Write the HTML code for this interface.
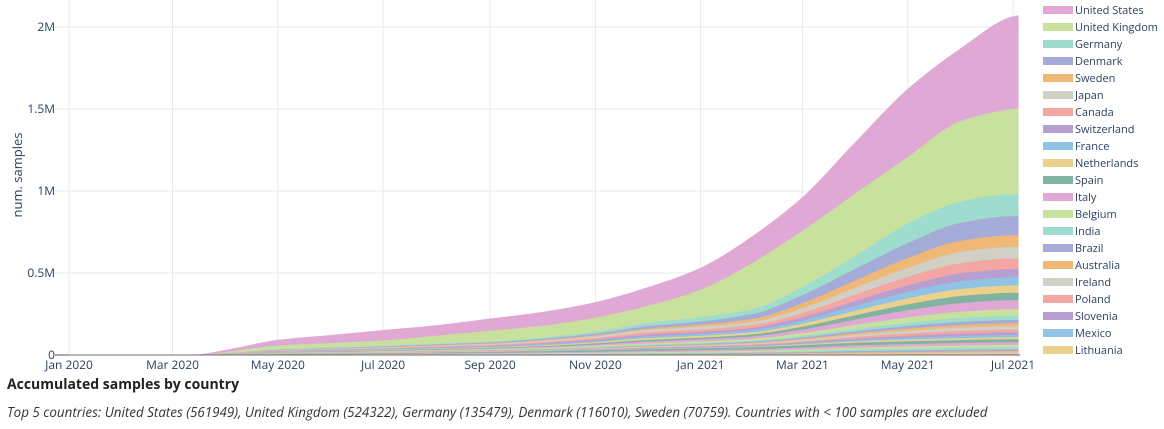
<!DOCTYPE html>
<html><head><meta charset="utf-8">
<style>
body{margin:0;background:#fff;font-family:"Liberation Sans",sans-serif;}
#wrap{position:relative;width:1164px;height:429px;overflow:hidden;}
svg text{font-family:"Open Sans","Liberation Sans",sans-serif;}
</style></head>
<body>
<div id="wrap">
<svg id="chart" width="1164" height="429"></svg>
</div>
<script>
const dates = ["2020-01-01","2020-02-01","2020-03-01","2020-03-15","2020-04-01","2020-05-01","2020-06-01","2020-07-01","2020-08-01","2020-09-01","2020-10-01","2020-11-01","2020-12-01","2021-01-01","2021-02-01","2021-03-01","2021-04-01","2021-05-01","2021-06-01","2021-07-01","2021-07-04"];
const countries = ["United States","United Kingdom","Germany","Denmark","Sweden","Japan","Canada","Switzerland","France","Netherlands","Spain","Italy","Belgium","India","Brazil","Australia","Ireland","Poland","Slovenia","Mexico","Lithuania","Other 1","Other 2","Other 3","Other 4","Other 5","Other 6","Other 7","Other 8"];
// values in thousands of samples (cumulative per country)
const usVals = [0,0,0,1,10,30,45,60,60,70,80,90,110,130,160,200,310,410,440,560,562];
const ukVals = [0,0,0,0,7,23,27,31,48,66,72,86,102,168,286,343,381,406,491,520,524];
const deVals = [0,0,0,0,1,3,4,5,5,5,8,12,20,25,30,50,80,120,130,135,135];
const dkVals = [0,0,0,0,1,2,3,4,5,6,7,10,15,20,30,50,70,90,110,116,116];
const seVals = [0,0,0,0,0,1,1,2,2,3,4,5,8,12,18,30,45,60,68,71,71];
const jpVals = [0,0,0,0,1,3,4,4,5,6,8,11,15,17,19,28,42,55,68,70,70];
const caVals = [0,0,0,0,1,3,3,4,5,6,8,10,14,15,18,26,39,52,62,65,65];
const chVals = [0,0,0,0,1,2,3,3,4,4,6,8,11,12,14,20,30,40,48,50,50];
const frVals = [0,0,0,0,1,2,3,3,4,4,6,8,11,12,14,20,30,40,48,50,50];
const nlVals = [0,0,0,0,1,2,2,3,3,4,5,7,10,11,12,18,27,36,43,45,45];
const esVals = [0,0,0,0,1,2,3,3,4,4,5,7,9,10,12,18,27,36,43,45,45];
const itVals = [0,0,0,0,1,2,3,4,4,5,6,9,12,13,15,22,33,44,53,55,55];
const beVals = [0,0,0,0,1,2,2,3,3,4,5,6,8,9,11,16,24,32,38,40,40];
const inVals = [0,0,0,0,0,1,1,2,2,2,3,4,5,6,7,10,15,20,24,25,25];
const brVals = [0,0,0,0,0,1,1,1,2,2,2,3,4,5,6,8,12,16,19,20,20];
const auVals = [0,0,0,0,1,2,2,2,3,3,3,3,4,4,5,7,10,14,17,18,18];
const ieVals = [0,0,0,0,0,1,1,1,2,2,2,3,4,5,6,8,12,16,19,20,20];
const plVals = [0,0,0,0,0,0,0,1,1,1,1,2,3,4,5,7,11,14,17,18,18];
const siVals = [0,0,0,0,0,0,0,0,0,1,1,2,3,4,5,6,9,12,14,15,15];
const mxVals = [0,0,0,0,0,0,1,1,1,1,2,2,3,3,4,6,8,11,13,14,14];
const ltVals = [0,0,0,0,0,0,0,0,0,0,1,1,2,2,3,5,8,10,12,13,13];
const o1Vals = [0,0,0,0,1,3,4,4,5,6,7,9,10,11,12,14,16,17,17,18,18];
const o2Vals = [0,0,0,0,1,2,3,3,4,5,6,7,8,9,10,12,14,15,16,16,16];
const o3Vals = [0,0,0,0,0,1,1,2,2,3,3,4,5,6,7,9,11,13,14,14,14];
const o4Vals = [0,0,0,0,0,1,1,1,2,2,3,3,4,5,6,8,10,11,12,12,12];
const o5Vals = [0,0,0,0,0,1,1,1,1,2,2,3,3,4,5,6,8,9,10,11,11];
const o6Vals = [0,0,0,0,0,0,1,1,1,1,2,2,3,3,4,5,7,8,9,10,10];
const o7Vals = [0,0,0,0,0,0,0,1,1,1,1,2,2,3,3,4,6,7,8,9,9];
const o8Vals = [0,0,0,0,0,0,0,0,1,1,1,1,2,2,3,4,5,6,7,8,8];
const yTicks = [0,500,1000,1500,2000];
const yTickLabels = ["0","0.5M","1M","1.5M","2M"];
const xTicks = ["2020-01-01","2020-03-01","2020-05-01","2020-07-01","2020-09-01","2020-11-01","2021-01-01","2021-03-01","2021-05-01","2021-07-01"];
const xTickLabels = ["Jan 2020","Mar 2020","May 2020","Jul 2020","Sep 2020","Nov 2020","Jan 2021","Mar 2021","May 2021","Jul 2021"];
const legendCount = 21;

const series = [usVals,ukVals,deVals,dkVals,seVals,jpVals,caVals,chVals,frVals,nlVals,esVals,itVals,beVals,inVals,brVals,auVals,ieVals,plVals,siVals,mxVals,ltVals,o1Vals,o2Vals,o3Vals,o4Vals,o5Vals,o6Vals,o7Vals,o8Vals];
const palette = ["#e0a8d4","#c8e29e","#9edccd","#a6acd8","#f0b877","#d0d0c6","#f4a6a3","#b79fd1","#90c3e4","#ecd18d","#80b3a1"];

const NS="http://www.w3.org/2000/svg";
const svg=document.getElementById('chart');
const X0=new Date("2020-01-01").getTime(), X1=new Date("2021-07-01").getTime();
function xs(d){return 69+(new Date(d).getTime()-X0)/(X1-X0)*944;}
function ys(v){return 355-v*0.164;}
function mk(tag,attrs){const e=document.createElementNS(NS,tag);for(const k in attrs)e.setAttribute(k,attrs[k]);svg.appendChild(e);return e;}

function monoPath(px,py,first){
  const n=px.length, m=new Array(n), d=[];
  for(let i=0;i<n-1;i++)d.push((py[i+1]-py[i])/(px[i+1]-px[i]));
  m[0]=d[0]; m[n-1]=d[n-2];
  for(let i=1;i<n-1;i++){
    if(d[i-1]*d[i]<=0)m[i]=0;
    else{const w1=2*(px[i+1]-px[i])+(px[i]-px[i-1]), w2=(px[i+1]-px[i])+2*(px[i]-px[i-1]);
      m[i]=(w1+w2)/(w1/d[i-1]+w2/d[i]);}
  }
  let s=(first?'M':'L')+px[0].toFixed(1)+','+py[0].toFixed(1);
  for(let i=0;i<n-1;i++){
    const h=(px[i+1]-px[i])/3;
    s+='C'+(px[i]+h).toFixed(1)+','+(py[i]+m[i]*h).toFixed(1)+' '+(px[i+1]-h).toFixed(1)+','+(py[i+1]-m[i+1]*h).toFixed(1)+' '+px[i+1].toFixed(1)+','+py[i+1].toFixed(1);
  }
  return s;
}

yTicks.forEach((t,i)=>{
  const g=mk('line',{x1:55,x2:1020,y1:ys(t),y2:ys(t),stroke:i==0?'#444':'#e6e9f0','stroke-width':1});
  
  
  const l=mk('text',{x:55,y:ys(t)+4,'text-anchor':'end','font-size':12,fill:'#2a3f5f'});
  l.textContent=yTickLabels[i];
  
  
});
xTicks.forEach((t,i)=>{
  const g=mk('line',{x1:xs(t),x2:xs(t),y1:0,y2:355,stroke:'#e6e9f0','stroke-width':1});
  
  
  const l=mk('text',{x:xs(t),y:369,'text-anchor':'middle','font-size':12,fill:'#2a3f5f'});
  l.textContent=xTickLabels[i];
  
  
});

const n=dates.length;
const pxs=dates.map(xs);
let base=new Array(n).fill(0);
const layers=[];
for(let s=series.length-1;s>=0;s--){
  const top=base.map((b,i)=>b+series[s][i]);
  layers.push({s,top,bot:base});
  base=top;
}
layers.forEach(L=>{
  let d=monoPath(pxs,L.top.map(ys),true);
  d+=monoPath(pxs.slice().reverse(),L.bot.map(ys).reverse(),false);
  d+='Z';
  const c=palette[L.s%palette.length];
  const p=mk('path',{d,fill:c,stroke:c,'stroke-width':0.8,'stroke-opacity':0.9});
  
  
});
mk('line',{x1:55,x2:1020,y1:355,y2:355,stroke:'#555','stroke-width':0.8});

for(let i=0;i<legendCount;i++){
  const y=10+i*17;
  const r=mk('rect',{x:1043,y:y-4,width:30,height:8,fill:palette[i%palette.length]});
  
  
  const t=mk('text',{x:1075,y:y+4,'font-size':11,fill:'#2a3f5f'});
  t.textContent=countries[i];
  
  
}
const at=mk('text',{x:0,y:0,'font-size':13,fill:'#2a3f5f','text-anchor':'middle',transform:'translate(22,175) rotate(-90)'});
at.textContent='num. samples';


const tt=mk('text',{x:7,y:389,'font-size':14,'font-weight':'bold',fill:'#222'});
tt.textContent='Accumulated samples by country';


const cap=mk('text',{x:7,y:417,'font-size':13.4,'font-style':'italic',fill:'#333'});
cap.textContent='Top 5 countries: United States (561949), United Kingdom (524322), Germany (135479), Denmark (116010), Sweden (70759). Countries with < 100 samples are excluded';


</script>
</body></html>
